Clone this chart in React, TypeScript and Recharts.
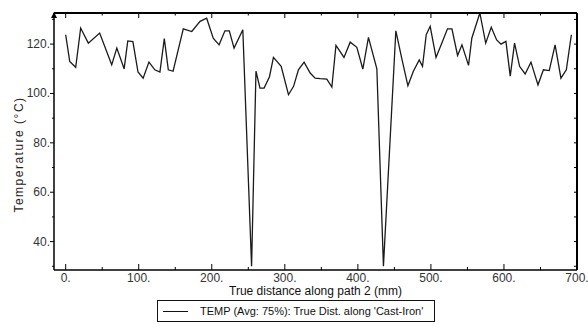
import { Label, Legend, Line, LineChart, XAxis, YAxis } from 'recharts';

// true distance along path (mm)
const distance = [
  0, 5.5, 13.7, 20.5, 31, 46.5, 63, 70, 80, 85, 92, 99, 106, 114, 122, 129, 135, 140.5, 147, 161,
  172.6, 184, 193, 202, 210, 218, 224, 230.5, 242.5, 254.5, 260.5, 266, 271.6, 279, 284.4, 295, 305,
  312, 318.6, 326.4, 334.7, 341.5, 348.4, 357.5, 364.4, 370, 381, 389.5, 398.6, 406.8, 414.5, 426,
  435, 452, 460, 468.5, 476, 484, 488.5, 493.6, 499, 507, 515, 522.7, 528.8, 536.5, 542.5, 551.5, 556,
  567, 575, 582.6, 590, 596, 602.7, 608.6, 614.5, 621.4, 629, 637, 646.6, 654, 662, 670, 678, 685.4,
  692.3,
];

// temperature (°C)
const temperature = [
  123.8, 113, 110.6, 126.5, 120.4, 124.5, 111.6, 118.4, 110, 121.3, 121, 108.7, 106.2, 112.7, 109.6,
  108.7, 122.2, 109.6, 109, 126.2, 125.1, 129.2, 130.5, 122.4, 119.7, 125.4, 125.4, 118.4, 125.8, 30,
  109, 102.2, 102.2, 106.8, 114.6, 111, 99.5, 102.9, 109.6, 112.7, 108.3, 106.2, 106, 105.8, 102.6,
  119.5, 114.6, 120.8, 118.7, 109.9, 122.7, 110, 30, 125.4, 114.3, 103.1, 109, 113.6, 111, 123.8,
  127.2, 114.6, 120.4, 126.2, 126.2, 115.4, 119.7, 111.4, 122.4, 132.6, 120.4, 126.8, 121.7, 120,
  121.1, 107, 120.4, 111, 107.9, 112.7, 103.5, 109.6, 109.3, 119.7, 106.2, 109.6, 123.8,
];

const xTicks = [0, 50, 100, 150, 200, 250, 300, 350, 400, 450, 500, 550, 600, 650, 700];
const yTicks = [30, 40, 50, 60, 70, 80, 90, 100, 110, 120, 130];
const seriesName = "TEMP (Avg: 75%): True Dist. along 'Cast-Iron'";

const data = distance.map((d, i) => ({ distance: d, temp: temperature[i] }));

const font = "'Liberation Sans', Arial, sans-serif";

const BottomTick = (props: any) => {
  const { x, y, payload } = props;
  const major = payload.value % 100 === 0;
  return (
    <g>
      <line x1={x} x2={x} y1={y} y2={y - (major ? 6 : 3)} stroke="#000" strokeWidth={1} />
      {major && (
        <text x={x} y={y + 12} textAnchor="middle" fontSize={12} fontFamily={font} fill="#333">
          {payload.value}.
        </text>
      )}
    </g>
  );
};

const TopTick = (props: any) => {
  const { x, y, payload } = props;
  const major = payload.value % 100 === 0;
  return <line x1={x} x2={x} y1={y} y2={y + (major ? 5 : 2.5)} stroke="#000" strokeWidth={1} />;
};

const LeftTick = (props: any) => {
  const { x, y, payload } = props;
  const major = payload.value % 20 === 0;
  return (
    <g>
      <line x1={x - (major ? 4 : 2)} x2={x} y1={y} y2={y} stroke="#000" strokeWidth={1} />
      {major && (
        <text x={x - 4} y={y + 4} textAnchor="end" fontSize={12} fontFamily={font} fill="#333">
          {payload.value}.
        </text>
      )}
    </g>
  );
};

const RightTick = (props: any) => {
  const { x, y } = props;
  return <line x1={x - 3} x2={x} y1={y} y2={y} stroke="#000" strokeWidth={1} />;
};

// y title plus the little arrow head at the top of the y axis
const YTitle = (props: any) => {
  const { x, y, width, height } = props.viewBox;
  const cx = 19;
  const cy = y + height / 2 + 13;
  const ax = x + width;
  return (
    <g>
      <text
        x={cx}
        y={cy}
        transform={`rotate(-90 ${cx} ${cy})`}
        textAnchor="middle"
        dominantBaseline="central"
        fontSize={12}
        letterSpacing={1.5}
        fontFamily={font}
        fill="#222"
      >
        Temperature (°C)
      </text>
      <path d={`M${ax - 3},${y + 5} L${ax},${y - 1} L${ax + 3},${y + 5} Z`} fill="#000" />
    </g>
  );
};

const LegendBox = () => (
  <div
    style={{
      boxSizing: 'border-box',
      width: '100%',
      height: '100%',
      border: '1px solid #111',
      display: 'flex',
      alignItems: 'center',
      fontFamily: font,
      fontSize: 11,
      color: '#111',
      whiteSpace: 'nowrap',
    }}
  >
    <span style={{ width: 25, borderTop: '1.5px solid #111', marginLeft: 5, marginRight: 12 }} />
    {seriesName}
  </div>
);

export default function App() {
  return (
    <div style={{ position: 'absolute', left: 0, top: 0, width: 588, height: 334, background: '#fff' }}>
      <LineChart width={588} height={334} data={data} margin={{ top: 12, right: 10, bottom: 0, left: 0 }}>
        <XAxis
          xAxisId="bottom"
          dataKey="distance"
          type="number"
          domain={[-16, 700]}
          ticks={xTicks}
          interval={0}
          allowDataOverflow
          height={64}
          tickSize={0}
          tickMargin={0}
          tick={<BottomTick />}
          axisLine={{ stroke: '#000', strokeWidth: 1.5 }}
        >
          <Label
            value="True distance along path 2 (mm)"
            position="insideTop"
            offset={16}
            fontSize={12}
            fontFamily={font}
            fill="#111"
          />
        </XAxis>
        <XAxis
          xAxisId="top"
          dataKey="distance"
          orientation="top"
          type="number"
          domain={[-16, 700]}
          ticks={xTicks}
          interval={0}
          allowDataOverflow
          height={1}
          tickSize={0}
          tickMargin={0}
          tick={<TopTick />}
          axisLine={{ stroke: '#000', strokeWidth: 2 }}
        />
        <YAxis
          yAxisId="left"
          type="number"
          domain={[28.5, 132.6]}
          ticks={yTicks}
          interval={0}
          allowDataOverflow
          width={54}
          tickSize={0}
          tickMargin={0}
          tick={<LeftTick />}
          axisLine={{ stroke: '#000', strokeWidth: 1.5 }}
        >
          <Label content={<YTitle />} />
        </YAxis>
        <YAxis
          yAxisId="right"
          orientation="right"
          type="number"
          domain={[28.5, 132.6]}
          ticks={yTicks}
          interval={0}
          allowDataOverflow
          width={1}
          tickSize={0}
          tickMargin={0}
          tick={<RightTick />}
          axisLine={{ stroke: '#000', strokeWidth: 2 }}
        />
        <Legend
          layout="horizontal"
          verticalAlign="middle"
          align="center"
          wrapperStyle={{ left: 157, top: 300, width: 278, height: 22 }}
          content={<LegendBox />}
        />
        <Line
          xAxisId="top"
          yAxisId="right"
          dataKey="temp"
          stroke="none"
          dot={false}
          legendType="none"
          isAnimationActive={false}
        />
        <Line
          xAxisId="bottom"
          yAxisId="left"
          dataKey="temp"
          name={seriesName}
          type="linear"
          stroke="#1a1a1a"
          strokeWidth={1.3}
          dot={false}
          isAnimationActive={false}
        />
      </LineChart>
    </div>
  );
}
